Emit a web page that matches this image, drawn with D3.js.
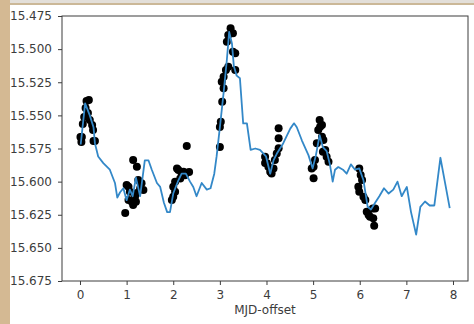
<!DOCTYPE html>
<html>
<head>
<meta charset="utf-8">
<script src="https://cdn.jsdelivr.net/npm/d3@7"></script>
<style>
  html, body { margin: 0; padding: 0; background: #ffffff; }
  svg { display: block; }
</style>
</head>
<body>
<svg id="chart" width="474" height="324"></svg>
<script>
// ---- Data ----
const xTicks = [0, 1, 2, 3, 4, 5, 6, 7, 8];
const yTicks = [15.475, 15.500, 15.525, 15.550, 15.575, 15.600, 15.625, 15.650, 15.675];
const xLabel = "MJD-offset";

// model curve (blue line)
const lineX = [0.015,0.11,0.21,0.29,0.32,0.39,0.50,0.64,0.75,0.80,0.86,0.93,1.00,1.07,1.13,1.20,1.29,1.39,1.47,1.54,1.65,1.72,1.80,1.87,1.93,2.00,2.11,2.18,2.27,2.36,2.43,2.50,2.61,2.72,2.80,2.88,2.93,3.00,3.08,3.15,3.20,3.26,3.30,3.36,3.43,3.50,3.58,3.66,3.76,3.86,3.99,4.08,4.15,4.22,4.36,4.51,4.59,4.65,4.76,4.90,4.99,5.06,5.14,5.21,5.29,5.36,5.42,5.47,5.54,5.64,5.72,5.81,5.90,5.99,6.08,6.17,6.24,6.33,6.42,6.52,6.62,6.72,6.81,6.90,7.01,7.10,7.21,7.30,7.40,7.50,7.60,7.73,7.83,7.93];
const lineY = [15.572,15.541,15.550,15.559,15.571,15.581,15.586,15.591,15.601,15.612,15.608,15.605,15.614,15.606,15.611,15.597,15.611,15.584,15.584,15.591,15.601,15.604,15.616,15.623,15.623,15.609,15.599,15.594,15.594,15.600,15.604,15.611,15.601,15.606,15.605,15.594,15.581,15.559,15.533,15.508,15.487,15.496,15.513,15.520,15.522,15.556,15.556,15.576,15.575,15.576,15.581,15.594,15.584,15.579,15.571,15.560,15.556,15.559,15.569,15.580,15.590,15.580,15.565,15.574,15.577,15.587,15.600,15.591,15.589,15.591,15.594,15.587,15.591,15.590,15.599,15.619,15.621,15.616,15.611,15.605,15.609,15.606,15.600,15.611,15.604,15.623,15.640,15.619,15.615,15.618,15.618,15.582,15.601,15.620];

// observations (black dots)
const dotX = [0.01,0.03,0.04,0.06,0.09,0.12,0.14,0.19,0.17,0.21,0.26,0.28,0.29,0.32,
  0.97,1.00,1.04,1.04,1.07,1.11,1.14,1.18,1.20,1.14,1.22,1.25,1.29,1.32,1.36,1.22,
  1.97,2.00,2.00,2.04,2.04,2.08,2.11,2.15,2.18,2.22,2.25,2.29,2.34,
  3.00,3.00,3.02,3.05,3.08,3.04,3.08,3.13,3.18,3.15,3.18,3.23,3.28,3.28,3.33,3.33,
  3.97,3.97,4.01,4.04,4.08,4.11,4.15,4.18,4.22,4.26,4.26,4.26,
  4.97,5.01,5.01,5.04,5.08,5.11,5.14,5.15,5.19,5.19,5.22,5.21,5.26,5.29,5.33,
  5.99,6.02,6.05,5.97,5.99,6.08,6.12,6.15,6.19,6.22,6.28,6.33,6.29,6.31];
const dotY = [15.5664,15.5701,15.5664,15.5565,15.5513,15.5445,15.5392,15.5384,15.5482,15.5535,15.5573,15.5611,15.5694,15.5694,
  15.6237,15.6026,15.6039,15.6139,15.6077,15.6152,15.6177,15.6114,15.6152,15.5837,15.5888,15.5988,15.6051,15.6013,15.6064,15.6086,
  15.6139,15.6114,15.6039,15.6001,15.6077,15.5900,15.5913,15.5976,15.5938,15.5926,15.5951,15.5732,15.5928,
  15.5739,15.5588,15.5548,15.5397,15.5296,15.5246,15.5208,15.5158,15.5133,15.4944,15.4893,15.4843,15.4881,15.5020,15.5032,15.5158,
  15.5812,15.5860,15.5862,15.5888,15.5926,15.5938,15.5900,15.5837,15.5787,15.5749,15.5673,15.5598,
  15.5900,15.5975,15.5888,15.5837,15.5711,15.5611,15.5535,15.5586,15.5573,15.5661,15.5686,15.5775,15.5762,15.5812,15.5850,
  15.5900,15.5950,15.5988,15.6039,15.6077,15.6114,15.6139,15.6228,15.6252,15.6265,15.6202,15.6202,15.6277,15.6333];

// ---- Layout ----
const svg = d3.select("#chart");
const W = 474, H = 324;
const plot = { left: 62, right: 468, top: 16, bottom: 281 };
const font = "'DejaVu Sans', sans-serif";
const ink = "#3c3c3c";

// page background / screenshot frame
svg.append("rect").attr("x", 0).attr("y", 0).attr("width", W).attr("height", H).attr("fill", "#ffffff");
svg.append("rect").attr("x", 0).attr("y", 0).attr("width", W).attr("height", 3).attr("fill", "#e3dfd9");
svg.append("rect").attr("x", 0).attr("y", 3).attr("width", W).attr("height", 2).attr("fill", "#cbb898");
svg.append("rect").attr("x", 0).attr("y", 0).attr("width", 10).attr("height", H).attr("fill", "#d4b993");

const x = d3.scaleLinear().domain([-0.386, 8.322]).range([plot.left, plot.right]);
const y = d3.scaleLinear().domain([15.475, 15.675]).range([plot.top, plot.bottom]);

// dots
const dots = dotX.map((d, i) => [d, dotY[i]]);
svg.append("g").selectAll("circle").data(dots).join("circle")
  .attr("cx", d => x(d[0])).attr("cy", d => y(d[1])).attr("r", 4)
  .attr("fill", "#000000");

// line
const pts = lineX.map((d, i) => [d, lineY[i]]);
svg.append("path").datum(pts)
  .attr("fill", "none").attr("stroke", "#3388c8").attr("stroke-width", 1.8)
  .attr("stroke-linejoin", "round")
  .attr("d", d3.line().x(d => x(d[0])).y(d => y(d[1])));

// axes
const xAxis = svg.append("g").attr("transform", `translate(0,${plot.bottom})`)
  .call(d3.axisBottom(x).tickValues(xTicks).tickFormat(d3.format("d")).tickSize(4).tickPadding(5).tickSizeOuter(0));
const yAxis = svg.append("g").attr("transform", `translate(${plot.left},0)`)
  .call(d3.axisLeft(y).tickValues(yTicks).tickFormat(d3.format(".3f")).tickSize(4).tickPadding(6).tickSizeOuter(0));
[xAxis, yAxis].forEach(a => {
  a.select(".domain").remove();
  a.selectAll("line").attr("stroke", ink).attr("stroke-width", 1);
  a.selectAll("text").attr("fill", ink).style("font-family", font).style("font-size", "12px");
});

// frame
svg.append("rect")
  .attr("x", plot.left).attr("y", plot.top)
  .attr("width", plot.right - plot.left).attr("height", plot.bottom - plot.top)
  .attr("fill", "none").attr("stroke", ink).attr("stroke-width", 1);

// x label
svg.append("text").attr("x", (plot.left + plot.right) / 2).attr("y", 314)
  .attr("text-anchor", "middle").attr("fill", ink)
  .style("font-family", font).style("font-size", "12px").text(xLabel);
</script>
</body>
</html>
